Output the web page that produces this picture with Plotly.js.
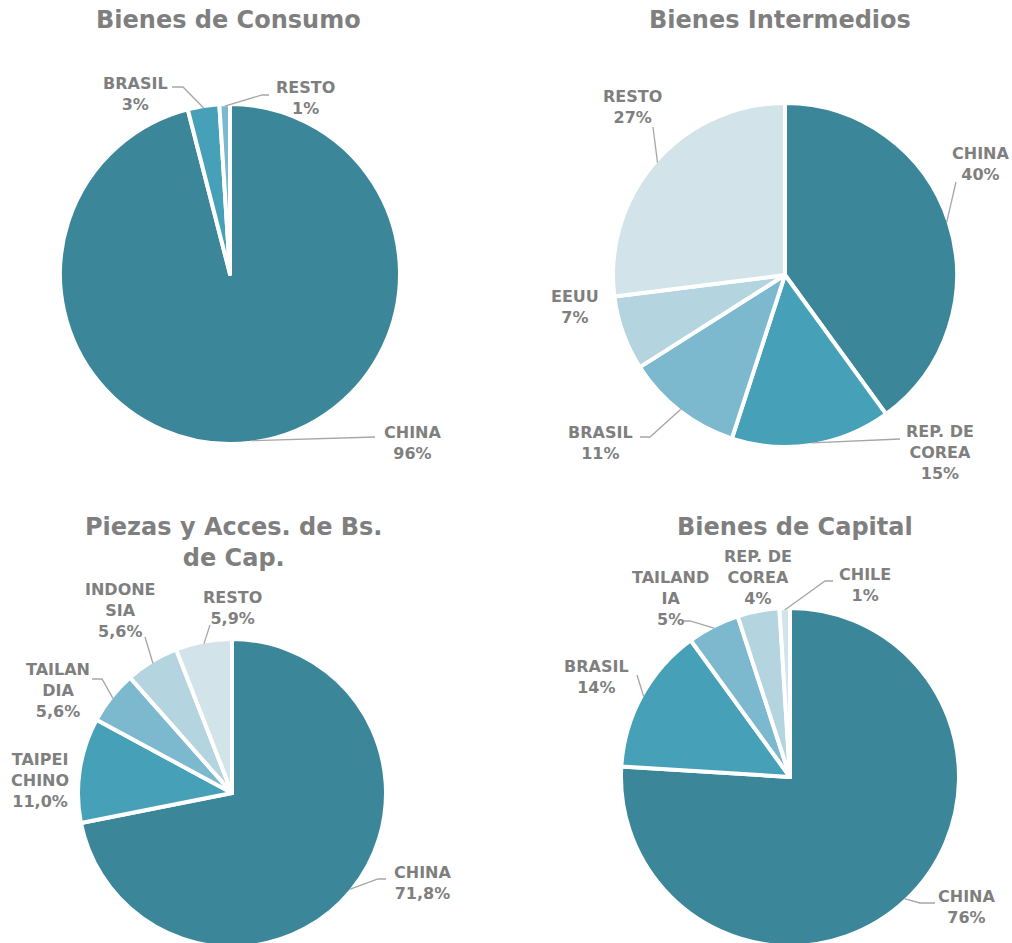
<!DOCTYPE html>
<html><head><meta charset="utf-8">
<script src="https://cdn.plot.ly/plotly-3.0.1.min.js"></script>
<style>html,body{margin:0;padding:0;overflow:hidden;background:#fff}</style>
</head><body><div id="chart" style="width:1012px;height:950px"></div>
<script>
// ---- DATA ----
const titles = ['Bienes de Consumo', 'Bienes Intermedios', 'Piezas y Acces. de Bs.<br>de Cap.', 'Bienes de Capital'];

const consumoLabels = ['CHINA', 'BRASIL', 'RESTO'];
const consumoValues = [96, 3, 1];
const consumoPct = ['96%', '3%', '1%'];

const intermediosLabels = ['CHINA', 'REP. DE<br>COREA', 'BRASIL', 'EEUU', 'RESTO'];
const intermediosValues = [40, 15, 11, 7, 27];
const intermediosPct = ['40%', '15%', '11%', '7%', '27%'];

const piezasLabels = ['CHINA', 'TAIPEI<br>CHINO', 'TAILAN<br>DIA', 'INDONE<br>SIA', 'RESTO'];
const piezasValues = [71.8, 11.0, 5.6, 5.6, 5.9];
const piezasPct = ['71,8%', '11,0%', '5,6%', '5,6%', '5,9%'];

const capitalLabels = ['CHINA', 'BRASIL', 'TAILAND<br>IA', 'REP. DE<br>COREA', 'CHILE'];
const capitalValues = [76, 14, 5, 4, 1];
const capitalPct = ['76%', '14%', '5%', '4%', '1%'];

// ---- STYLE / LAYOUT ----
const W = 1012, H = 950;
const px = x => x / W;
const py = y => 1 - y / H;
const gray = '#7f7f7f';
const lineGray = '#a6a6a6';
const FONT = 'DejaVu Sans, Open Sans, sans-serif';

const colors3 = ['#3b8799', '#46a0b8', '#7db9ce'];
const colors5 = ['#3b8799', '#46a0b8', '#7db9ce', '#b4d4df', '#d2e3ea'];

// pie geometry in pixels (center x, center y, radius)
const pies = [
  {labels: consumoLabels, values: consumoValues, pct: consumoPct, colors: colors3, cx: 230, cy: 274, r: 168, title: [228, 20],
   place: [ {lab: [412, 443], lead: [[375, 437]]},
            {lab: [135, 94], lead: [[183, 87], [172, 87]]},
            {lab: [305, 98], lead: [[262, 95], [269, 95]]} ]},
  {labels: intermediosLabels, values: intermediosValues, pct: intermediosPct, colors: colors5, cx: 785, cy: 275, r: 170, title: [780, 20],
   place: [ {lab: [980, 164], lead: [[956, 182]]},
            {lab: [940, 452], lead: [[900, 439]]},
            {lab: [600, 443], lead: [[650, 437], [640, 437]]},
            {lab: [575, 307], lead: null},
            {lab: [632, 107], lead: [[653, 127]]} ]},
  {labels: piezasLabels, values: piezasValues, pct: piezasPct, colors: colors5, cx: 232, cy: 793, r: 152, title: [233, 542],
   place: [ {lab: [422, 883], lead: [[378, 879], [386, 879]]},
            {lab: [40, 780], lead: null},
            {lab: [58, 690], lead: [[102, 679], [92, 679]]},
            {lab: [120, 610], lead: [[145, 637]]},
            {lab: [232, 608], lead: [[210, 625]]} ]},
  {labels: capitalLabels, values: capitalValues, pct: capitalPct, colors: colors5, cx: 790, cy: 777, r: 167, title: [795, 527],
   place: [ {lab: [966, 907], lead: [[920, 903], [935, 903]]},
            {lab: [596, 677], lead: [[637, 675]]},
            {lab: [670, 598], lead: [[690, 621], [683, 621]]},
            {lab: [758, 577], lead: null},
            {lab: [865, 585], lead: [[825, 581], [833, 581]]} ]}
];

const data = [], annotations = [], shapes = [];
pies.forEach((p, k) => {
  const rr = p.r + 2;
  data.push({
    type: 'pie', values: p.values, labels: p.labels, sort: false, direction: 'clockwise', rotation: 0,
    textinfo: 'none', hoverinfo: 'label+value', showlegend: false,
    marker: {colors: p.colors, line: {color: '#ffffff', width: 4}},
    domain: {x: [px(p.cx - rr), px(p.cx + rr)], y: [py(p.cy + rr), py(p.cy - rr)]}
  });
  annotations.push({xref: 'paper', yref: 'paper', x: px(p.title[0]), y: py(p.title[1]), xanchor: 'center', yanchor: 'middle',
    text: '<b>' + titles[k] + '</b>', showarrow: false, font: {family: FONT, size: 24, color: gray}});
  const total = p.values.reduce((a, b) => a + b, 0);
  let cum = 0;
  p.values.forEach((v, i) => {
    const mid = (cum + v / 2) / total; cum += v;
    const th = 2 * Math.PI * mid;
    const ex = p.cx + p.r * Math.sin(th), ey = p.cy - p.r * Math.cos(th);
    const pl = p.place[i];
    annotations.push({xref: 'paper', yref: 'paper', x: px(pl.lab[0]), y: py(pl.lab[1]), xanchor: 'center', yanchor: 'middle',
      text: '<b>' + p.labels[i] + '<br>' + p.pct[i] + '</b>', showarrow: false, align: 'center',
      font: {family: FONT, size: 16, color: gray}});
    if (pl.lead) {
      let path = 'M ' + px(ex) + ' ' + py(ey);
      pl.lead.forEach(pt => { path += ' L ' + px(pt[0]) + ' ' + py(pt[1]); });
      shapes.push({type: 'path', xref: 'paper', yref: 'paper', path: path, line: {color: lineGray, width: 1.3}});
    }
  });
});

Plotly.newPlot('chart', data, {
  width: W, height: H, margin: {l: 0, r: 0, t: 0, b: 0},
  paper_bgcolor: '#ffffff', plot_bgcolor: '#ffffff',
  annotations: annotations, shapes: shapes
}, {displayModeBar: false, staticPlot: true});
</script></body></html>
